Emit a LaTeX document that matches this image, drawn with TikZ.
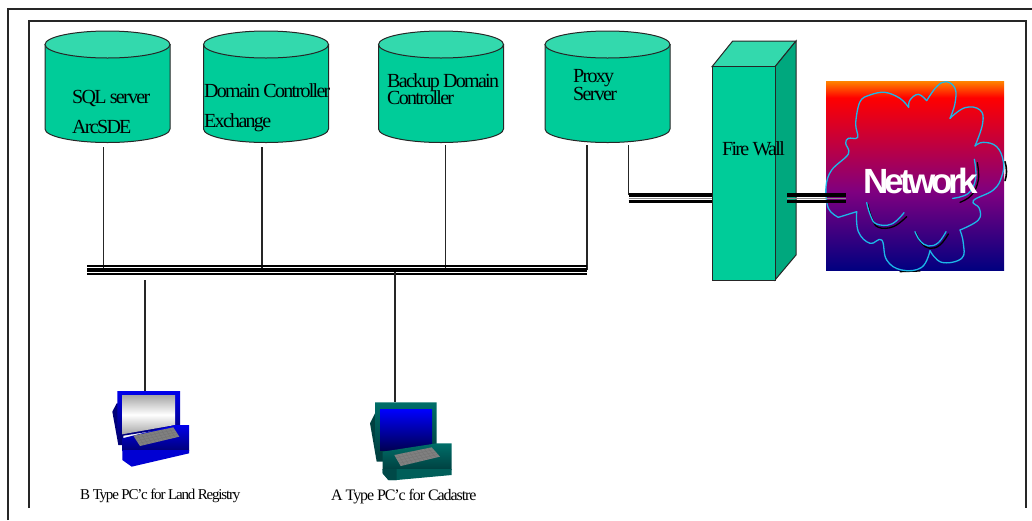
\documentclass[tikz,border=0pt]{standalone}
\usepackage{fontspec}
\setmainfont{Liberation Serif}
\newfontfamily\tightserif[LetterSpace=-8.5]{Liberation Serif}
\newfontfamily\smallserif[LetterSpace=-8]{Liberation Serif}
\newfontfamily\cadserif[LetterSpace=-6.8]{Liberation Serif}
\newfontfamily\tightsans[LetterSpace=-11]{Liberation Sans}
\definecolor{dbfront}{RGB}{0,204,153}
\definecolor{dbtop}{RGB}{51,217,173}
\definecolor{dbside}{RGB}{0,168,126}
\definecolor{cloudline}{RGB}{28,184,232}
\definecolor{tealpc}{RGB}{0,110,105}
\definecolor{tealdark}{RGB}{0,64,64}
\definecolor{bluepc}{RGB}{0,0,235}
\definecolor{navypc}{RGB}{0,0,120}
\pgfdeclareverticalshading{netgrad}{100bp}{rgb(0bp)=(0,0,0.5); rgb(25bp)=(0,0,0.5); rgb(46bp)=(0.5,0,0.5); rgb(70.8bp)=(1,0,0); rgb(75bp)=(1,0.5,0); rgb(100bp)=(1,0.5,0)}
\tikzset{
  frameline/.style={line width=1.4pt,draw=black!85},
  wire/.style={line width=1.2pt,draw=black!85},
  thinrail/.style={line width=1.8pt,draw=black},
  thickrail/.style={line width=4.4pt,draw=black},
  siderailtop/.style={line width=4.2pt,draw=black},
  siderailmid/.style={line width=.8pt,draw=black!45},
  siderailbot/.style={line width=2.4pt,draw=black},
  outlined/.style={line width=1pt,draw=black!85},
  slot/.style={inner sep=0pt,outer sep=0pt,draw=none,fill=none},
  serif20/.style={inner sep=0pt,anchor=base west,font=\tightserif\fontsize{20}{20}\selectfont},
  serif15/.style={inner sep=0pt,anchor=base west,font=\smallserif\fontsize{15}{15}\selectfont},
  serif16/.style={inner sep=0pt,anchor=base west,font=\cadserif\fontsize{16}{16}\selectfont},
  cloudstroke/.style={line width=1.3pt,draw=cloudline,line join=round,line cap=round},
  cloudshadow/.style={line width=1.3pt,draw=black,line cap=round},
  keyline/.style={line width=.35pt,draw=black!55}
}
\newcommand{\dbcyl}[2]{%
  \begin{scope}[shift={(#1,0)}]
    \path[fill=dbfront,outlined] (-62.5,44.5) -- (-62.5,129)
      .. controls (-62.5,136.5) and (-34,142.5) .. (0,142.5)
      .. controls (34,142.5) and (62.5,136.5) .. (62.5,129) -- (62.5,44.5) -- cycle;
    \path[fill=dbtop,outlined] (0,44.5) ellipse [x radius=62.5,y radius=13.5];
    \node[slot,name=#2,minimum width=125pt,minimum height=112pt] at (0,87) {};
  \end{scope}}
\newcommand{\keyboard}[8]{% four corners
  \fill[gray] (#1,#2) -- (#3,#4) -- (#5,#6) -- (#7,#8) -- cycle;
  \foreach \t in {.1,.2,...,.95}
    \draw[keyline] ({#1+\t*(#3-#1)},{#2+\t*(#4-#2)}) -- ({#7+\t*(#5-#7)},{#8+\t*(#6-#8)});
  \foreach \t in {.25,.5,.75}
    \draw[keyline] ({#1+\t*(#7-#1)},{#2+\t*(#8-#2)}) -- ({#3+\t*(#5-#3)},{#4+\t*(#6-#4)});
}
\begin{document}
\begin{tikzpicture}[x=1pt,y=-1pt]
\useasboundingbox (0,0) rectangle (1032,520);
% frames
\draw[frameline] (8,520) -- (8,9) -- (1032,9);
\draw[frameline] (29,508) -- (29,21) -- (1026,21) -- (1026,508);
% databases
\dbcyl{107.5}{sql}
\dbcyl{266}{dc}
\dbcyl{441}{bdc}
\dbcyl{607.5}{proxy}
% firewall
\path[fill=dbtop,outlined] (712,66.7) -- (732.7,41) -- (796,41) -- (775,66.7) -- cycle;
\path[fill=dbside,outlined] (775,66.7) -- (796,41) -- (796,255) -- (775,280) -- cycle;
\path[fill=dbfront,outlined] (712,66.7) rectangle (775,280);
\node[slot,name=fw,minimum width=63pt,minimum height=213pt] at (743.5,173.3) {};
% network
\path[shading=netgrad] (826,81.7) rectangle (1004,270.7);
\node[slot,name=net,minimum width=178pt,minimum height=189pt] at (915,176.2) {};
% bus
\node[slot,name=bus,minimum width=500pt,minimum height=10pt] at (337,270) {};
% ports
\coordinate (psql) at (103.5,147);
\coordinate (pdc) at (262,147);
\coordinate (pbdc) at (445.5,145);
\coordinate (pprox) at (587,145);
\coordinate (pfw) at (628.5,145);
\coordinate (pcbtop) at (145,280);
\coordinate (pcatop) at (395,272);
\draw[wire] (psql) -- (psql |- bus.center);
\draw[wire] (pdc) -- (pdc |- bus.center);
\draw[wire] (pbdc) -- (pbdc |- bus.center);
\draw[wire] (pprox) -- (pprox |- bus.center);
\draw[thinrail] (bus.west |- 0,265.8) -- (bus.east |- 0,265.8);
\draw[thickrail] (bus.west |- 0,269.9) -- (bus.east |- 0,269.9);
\draw[thinrail] (bus.west |- 0,274.3) -- (bus.east |- 0,274.3);
% proxy to firewall
\draw[wire] (pfw) -- (628.5,195);
\draw[siderailmid] (pfw |- 0,198.5) -- (fw.west |- 0,198.5);
\draw[siderailtop] (pfw |- 0,194.8) -- (fw.west |- 0,194.8);
\draw[siderailbot] (pfw |- 0,201.3) -- (fw.west |- 0,201.3);
% cloud
\begin{scope}[shift={(700,30)},x=.33333pt,y=-.33333pt]
  \draw[cloudshadow,line width=1.6pt] (915,395) .. controls (921,415) and (921,435) .. (915,452);
  \draw[cloudshadow] (600,725) -- (660,723);
  \draw[cloudshadow] plot[smooth,tension=.7] coordinates {(503,522) (516,565) (535,592) (580,590) (620,560)};
  \draw[cloudshadow] plot[smooth,tension=.7] coordinates {(648,608) (665,640) (690,655) (720,645) (745,612)};
  \draw[cloudshadow] plot[smooth,tension=.7] coordinates {(832,398) (835,450) (815,495) (780,517)};
  \draw[cloudstroke] plot[smooth,tension=.6] coordinates {(415,562) (385,535) (378,470) (395,420) (445,372) (437,340) (445,325) (473,322) (467,280) (480,215) (510,195) (555,187) (600,205) (626,232)};
  \draw[cloudstroke] plot[smooth,tension=.7] coordinates {(626,232) (630,210) (655,193) (680,212)};
  \draw[cloudstroke] plot[smooth,tension=.7] coordinates {(680,212) (710,170) (738,155) (765,175) (765,220) (750,265)};
  \draw[cloudstroke] plot[smooth,tension=.7] coordinates {(750,265) (795,233) (840,240) (848,280) (825,348)};
  \draw[cloudstroke] plot[smooth,tension=.7] coordinates {(825,348) (850,337) (890,350) (910,395) (905,440) (880,480) (820,512) (838,535) (835,570) (780,600)};
  \draw[cloudstroke] plot[smooth,tension=.7] coordinates {(780,600) (790,640) (785,685) (725,697) (690,662)};
  \draw[cloudstroke] plot[smooth,tension=.7] coordinates {(690,662) (665,712) (605,720) (560,690) (545,630) (510,640) (475,605) (470,545)};
  \draw[cloudstroke] (470,545) -- (415,562);
  \draw[cloudstroke] plot[smooth,tension=.7] coordinates {(500,518) (512,558) (530,582) (575,582) (612,548)};
  \draw[cloudstroke] plot[smooth,tension=.7] coordinates {(645,605) (660,632) (685,648) (715,638) (738,605)};
  \draw[cloudstroke] plot[smooth,tension=.7] coordinates {(823,388) (827,445) (805,490) (758,505)};
\end{scope}
% firewall to network, over the cloud edge
\coordinate (railend) at (846,197);
\draw[siderailmid] (787,198.5) -- (railend |- 0,198.5);
\draw[siderailtop] (787,194.8) -- (railend |- 0,194.8);
\draw[siderailbot] (787,201.3) -- (railend |- 0,201.3);
% PC B
\begin{scope}[shift={(100,385)},x=.33333pt,y=-.33333pt]
  \fill[navypc] (50,55) -- (37,80) -- (55,180) -- (70,180) -- (70,55) -- cycle;
  \shade[top color=bluepc,bottom color=navypc] (52,18) -- (240,18) -- (240,125) -- (52,155) -- cycle;
  \shade[top color=black!35,bottom color=black!35,middle color=white] (66,30) -- (225,30) -- (225,120) -- (66,148) -- cycle;
  \shade[top color=bluepc,bottom color=navypc] (225,120) -- (267,120) -- (267,198) -- (67,198) -- (67,160) -- cycle;
  \fill[bluepc!90!black] (67,195) -- (267,195) -- (267,205) -- (95,245) -- (67,225) -- cycle;
  \keyboard{100}{152}{220}{127}{238}{155}{120}{183}
  \node[slot,name=pcb,minimum width=77pt,minimum height=76pt] at (152,131) {};
\end{scope}
% PC A
\begin{scope}[shift={(360,395)},x=.33333pt,y=-.33333pt]
  \fill[tealdark] (45,55) -- (30,85) -- (50,200) -- (70,200) -- (70,55) -- cycle;
  \shade[top color=tealpc,bottom color=tealdark] (45,22) -- (230,22) -- (230,150) -- (45,175) -- cycle;
  \shade[top color=blue,bottom color=navypc!70!black] (60,42) -- (216,42) -- (216,165) -- (60,165) -- cycle;
  \shade[top color=tealpc,bottom color=tealdark] (230,145) -- (275,145) -- (275,225) -- (68,225) -- (68,170) -- cycle;
  \fill[tealpc!85!black] (68,222) -- (275,222) -- (275,240) -- (110,255) -- (85,255) -- (68,235) -- cycle;
  \fill[tealdark!80!tealpc] (68,222) -- (110,222) -- (110,255) -- (85,255) -- (68,235) -- cycle;
  \keyboard{103}{180}{215}{157}{240}{185}{122}{213}
  \node[slot,name=pca,minimum width=82pt,minimum height=78pt] at (152,138) {};
\end{scope}
% PC connectors
\draw[wire] (pcbtop) -- (pcbtop |- pcb.north);
\draw[wire] (pcatop) -- (pcatop |- pca.north);
% labels
\node[serif20] (t1) at (72,103) {SQL server};
\node[serif20] (t2) at (72,133) {ArcSDE};
\node[serif20] (t3) at (204,97) {Domain Controller};
\node[serif20] (t4) at (204,127) {Exchange};
\node[serif20] (t5) at (387,87.7) {Backup Domain};
\node[serif20] (t6) at (387,104) {Controller};
\node[serif20] (t7) at (573,82) {Proxy};
\node[serif20] (t8) at (573,100) {Server};
\node[serif20] (t9) at (722,155) {Fire Wall};
\node[inner sep=0pt,anchor=base west,text=white,font=\tightsans\bfseries\fontsize{35}{35}\selectfont] (t10) at (863,193) {Network};
\node[serif15] (t11) at (80,499) {B Type PC’c for Land Registry};
\node[serif16] (t12) at (331,500.5) {A Type PC’c for Cadastre};
\end{tikzpicture}
\end{document}
